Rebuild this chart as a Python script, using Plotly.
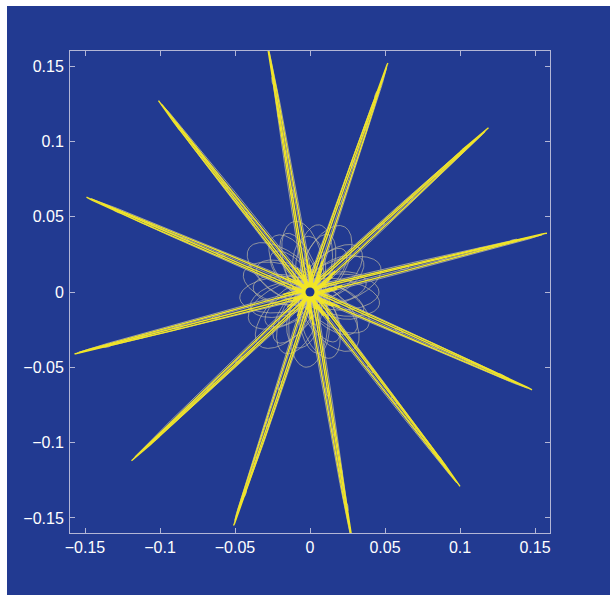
import numpy as np
import plotly.graph_objects as go

# ---- data ----
# tips of the 12 radial spikes (data units)
tip_x = [-0.028, 0.052, 0.119, 0.158, 0.148, 0.100, 0.028, -0.051, -0.119, -0.157, -0.149, -0.101]
tip_y = [0.163, 0.152, 0.109, 0.039, -0.065, -0.129, -0.166, -0.155, -0.112, -0.041, 0.063, 0.127]
# positions (fraction of spike length) of the small hooks along each spike
hook_frac = [0.40, 0.56, 0.72, 0.86]
# strands per spike: perpendicular offset (data units), length fraction, bright / thin flag
strand_offset = [0.0026, -0.0019, 0.0012, -0.0031, 0.0036, -0.0007]
strand_length = [1.00, 0.98, 0.93, 0.99, 0.90, 0.96]
strand_bright = [1, 1, 1, 0, 0, 0]
# how far (data units) the strands run on past the centre
strand_overshoot = [0.018, 0.012, 0.022, 0.015, 0.010, 0.020]
# inner petal loops around the centre
petal_angle_deg = [0, 10, 20, 31, 41, 51, 62, 72, 82, 92, 103, 113, 123, 134, 144, 154, 164, 175,
                   185, 195, 206, 216, 226, 236, 247, 257, 267, 278, 288, 298, 308, 319, 329, 339, 350]
petal_length = [0.046, 0.038, 0.050, 0.041, 0.044, 0.036, 0.049, 0.040, 0.045, 0.037, 0.048, 0.042,
                0.044, 0.036, 0.050, 0.039, 0.046, 0.038, 0.047, 0.041, 0.045, 0.036, 0.049, 0.040,
                0.044, 0.038, 0.050, 0.041, 0.046, 0.037, 0.048, 0.040, 0.045, 0.038, 0.047]
petal_halfwidth = [0.012, 0.010, 0.014, 0.011, 0.013, 0.009, 0.014, 0.010, 0.012, 0.011, 0.013, 0.010,
                   0.012, 0.009, 0.014, 0.011, 0.013, 0.010, 0.012, 0.011, 0.013, 0.009, 0.014, 0.010,
                   0.012, 0.011, 0.013, 0.010, 0.012, 0.009, 0.014, 0.011, 0.013, 0.010, 0.012]
petal_start = [-0.006, -0.003, -0.008, -0.004, -0.007, -0.002, -0.006, -0.004, -0.008, -0.003, -0.005, -0.007,
               -0.004, -0.002, -0.008, -0.005, -0.006, -0.003, -0.007, -0.004, -0.006, -0.002, -0.008, -0.005,
               -0.004, -0.003, -0.007, -0.006, -0.005, -0.002, -0.008, -0.004, -0.006, -0.003, -0.007]
center_x = [0.0]
center_y = [0.0]
tick_vals = [-0.15, -0.1, -0.05, 0, 0.05, 0.1, 0.15]
tick_text = ["\u22120.15", "\u22120.1", "\u22120.05", "0", "0.05", "0.1", "0.15"]

BLUE = "#223a91"
YELLOW = "#f2e627"
THIN = "#bdb9a2"
AXIS = "#b3b6d6"


def strand(L, ang, d, over, n=240):
    s = np.linspace(-over, L, n)
    frac = np.clip(1 - s / L, 0, None)
    w = d * np.sqrt(frac)
    ux, uy = np.cos(ang), np.sin(ang)
    vx, vy = -uy, ux
    return list(s * ux + w * vx) + [None], list(s * uy + w * vy) + [None]


def lens(r0, L, ang, b, n=200):
    t = np.linspace(0, 2 * np.pi, n)
    ux, uy = np.cos(ang), np.sin(ang)
    vx, vy = -uy, ux
    s = r0 + (L - r0) / 2 * (1 + np.cos(t))
    w = b * np.sin(t)
    return list(s * ux + w * vx) + [None], list(s * uy + w * vy) + [None]


def small_loop(cx, cy, ang, a, b, n=40):
    t = np.linspace(0, 2 * np.pi, n)
    ux, uy = np.cos(ang), np.sin(ang)
    vx, vy = -uy, ux
    x = cx + a * np.cos(t) * ux + b * np.sin(t) * vx
    y = cy + a * np.cos(t) * uy + b * np.sin(t) * vy
    return list(x) + [None], list(y) + [None]


bx, by = [], []   # bright strands
gx, gy = [], []   # thin strands
for tx, ty in zip(tip_x, tip_y):
    L = float(np.hypot(tx, ty))
    ang = float(np.arctan2(ty, tx))
    for d, f, br, ov in zip(strand_offset, strand_length, strand_bright, strand_overshoot):
        x, y = strand(L * f, ang, d, ov)
        if br:
            bx += x; by += y
        else:
            gx += x; gy += y
    ux, uy = np.cos(ang), np.sin(ang)
    vx, vy = -uy, ux
    for f in hook_frac:
        s = f * L
        w = 0.0004
        x, y = small_loop(s * ux + w * vx, s * uy + w * vy, ang, 0.0030, 0.0009)
        gx += x; gy += y

px, py = [], []
for a, L, b, r0 in zip(petal_angle_deg, petal_length, petal_halfwidth, petal_start):
    x, y = lens(r0, L, np.radians(a), b); px += x; py += y

fig = go.Figure()
fig.add_trace(go.Scatter(x=px, y=py, mode="lines", line=dict(color=THIN, width=0.7),
                         hoverinfo="skip", showlegend=False))
fig.add_trace(go.Scatter(x=gx, y=gy, mode="lines", line=dict(color=THIN, width=0.8),
                         hoverinfo="skip", showlegend=False))
fig.add_trace(go.Scatter(x=bx, y=by, mode="lines", line=dict(color=YELLOW, width=1.4),
                         hoverinfo="skip", showlegend=False))
fig.add_trace(go.Scatter(x=center_x, y=center_y, mode="markers",
                         marker=dict(color="#1d3590", size=9, line=dict(width=0)),
                         hoverinfo="skip", showlegend=False))

axis_common = dict(
    range=[-0.16, 0.16], tickvals=tick_vals, ticktext=tick_text,
    ticks="inside", ticklen=5, tickcolor=AXIS, tickwidth=1,
    showline=True, linecolor=AXIS, linewidth=1, mirror="ticks",
    showgrid=False, zeroline=False,
    tickfont=dict(color="white", size=16, family="Liberation Sans, Arial, sans-serif"),
)
fig.update_xaxes(**axis_common)
fig.update_yaxes(**axis_common, ticklabelstandoff=2)

# white strips at the left and top of the picture
fig.add_shape(type="rect", xref="paper", yref="paper", x0=-0.2, x1=(7 - 70) / 480,
              y0=-0.2, y1=1.2, fillcolor="white", line=dict(width=0), layer="below")
fig.add_shape(type="rect", xref="paper", yref="paper", x0=-0.2, x1=1.2,
              y0=(533 - 6) / 482, y1=1.2, fillcolor="white", line=dict(width=0), layer="below")

fig.update_layout(
    width=610, height=595, autosize=False,
    margin=dict(l=70, r=60, t=51, b=62),
    paper_bgcolor=BLUE, plot_bgcolor=BLUE,
)
fig.write_html("out.html")
